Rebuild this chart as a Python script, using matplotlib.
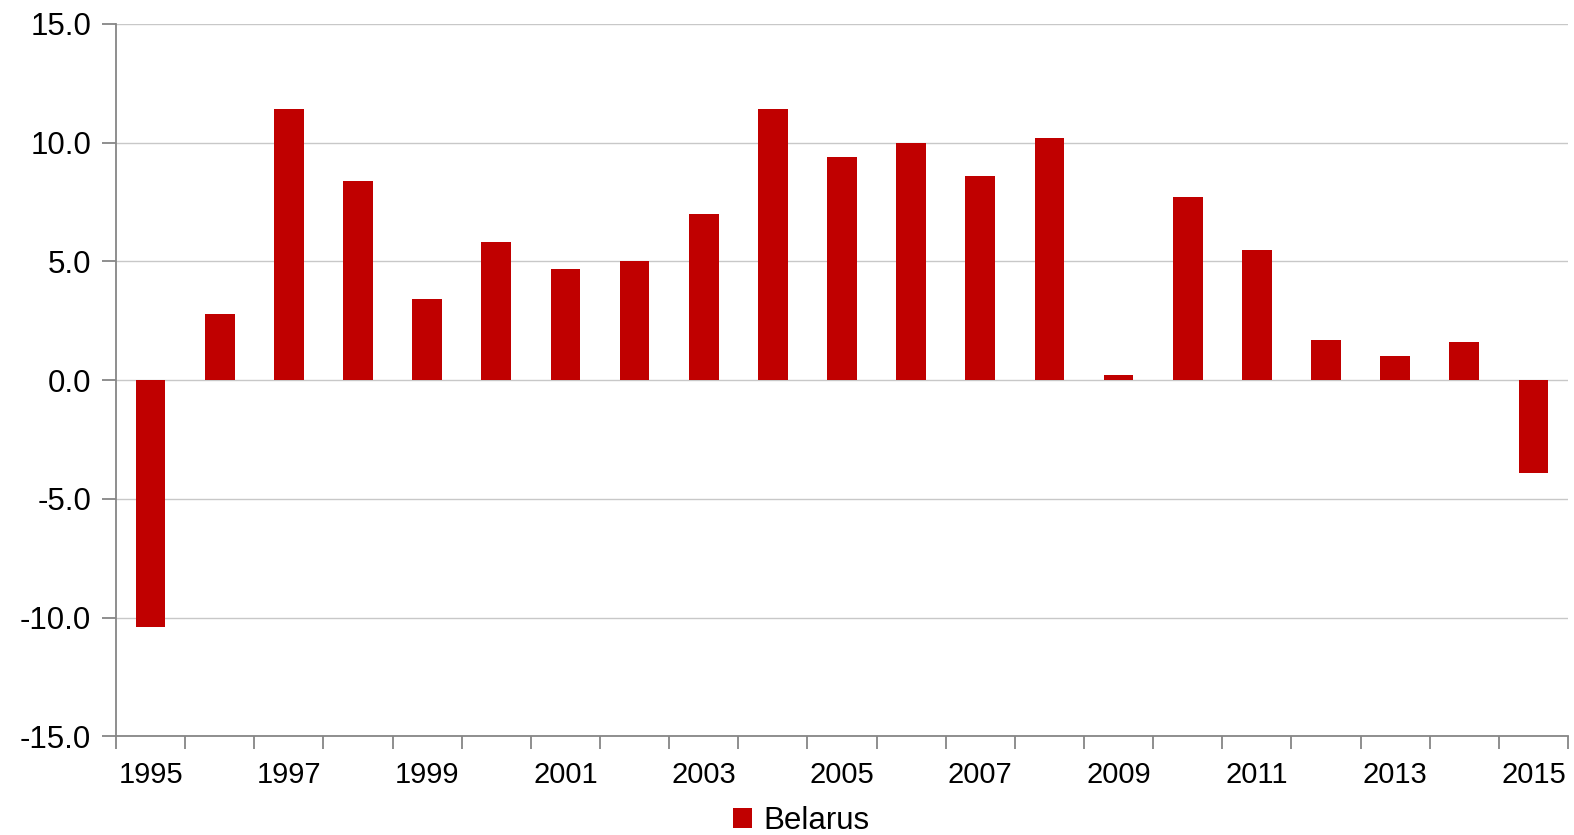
import matplotlib
matplotlib.use("Agg")
import matplotlib.pyplot as plt
from matplotlib.patches import Patch
import numpy as np

years = list(range(1995, 2016))
values = [-10.4, 2.8, 11.4, 8.4, 3.4, 5.8, 4.7, 5.0, 7.0, 11.4, 9.4, 10.0, 8.6, 10.2, 0.2, 7.7, 5.5, 1.7, 1.0, 1.6, -3.9]
yticks = [-15.0, -10.0, -5.0, 0.0, 5.0, 10.0, 15.0]
series_name = "Belarus"

plt.rcParams['font.family'] = ['Liberation Sans', 'DejaVu Sans']

fig = plt.figure(figsize=(15.74, 8.35), dpi=100)
ax = fig.add_axes([0.0737, 0.1180, 0.9225, 0.8533])

x = np.arange(len(years))
ax.bar(x, values, width=0.43, color='#C00000', zorder=3)

ax.set_ylim(-15, 15)
ax.set_xlim(-0.5, len(years) - 0.5)
ax.set_yticks(yticks)
ax.set_yticklabels([f"{v:.1f}" for v in yticks], fontsize=22.5)
ax.yaxis.grid(True, color='#C8C8C8', linewidth=1.0, zorder=0)
ax.set_axisbelow(True)

ax.set_xticks(x[::2])
ax.set_xticklabels([str(y) for y in years[::2]], fontsize=21)
ax.tick_params(axis='x', which='major', length=0, pad=18)
ax.set_xticks(np.arange(-0.5, len(years)), minor=True)
ax.tick_params(axis='x', which='minor', length=9, width=1.3, color='#868686', direction='out')
ax.tick_params(axis='y', length=10, width=1.3, color='#868686', pad=8)

for s in ['top', 'right']:
    ax.spines[s].set_visible(False)
for s in ['left', 'bottom']:
    ax.spines[s].set_color('#868686')
    ax.spines[s].set_linewidth(1.3)

handle = Patch(facecolor='#C00000', edgecolor='none', label=series_name)
fig.legend(handles=[handle], loc='center', bbox_to_anchor=(0.509, 0.0165), frameon=False,
           fontsize=22.5, handlelength=0.6, handleheight=0.6, handletextpad=0.35,
           borderpad=0)

fig.savefig('out.png', dpi=100)
